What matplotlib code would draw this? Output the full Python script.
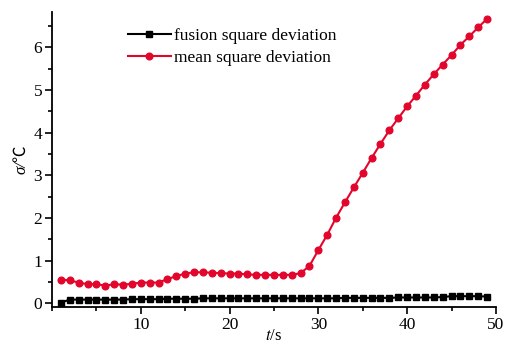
import numpy as np
import matplotlib
matplotlib.use('Agg')
import matplotlib.pyplot as plt
from matplotlib.ticker import MultipleLocator

t = np.arange(1, 50)
fusion = [0.02, 0.09, 0.09, 0.09, 0.09, 0.09, 0.09, 0.09, 0.10, 0.10,
          0.10, 0.10, 0.11, 0.11, 0.11, 0.11, 0.12, 0.12, 0.12, 0.12,
          0.12, 0.12, 0.12, 0.12, 0.12, 0.12, 0.12, 0.12, 0.12, 0.12,
          0.12, 0.12, 0.13, 0.13, 0.13, 0.13, 0.13, 0.13, 0.14, 0.14,
          0.14, 0.14, 0.14, 0.15, 0.17, 0.17, 0.17, 0.17, 0.16]
mean_sq = [0.56, 0.54, 0.49, 0.45, 0.45, 0.42, 0.45, 0.44, 0.46, 0.49,
           0.49, 0.49, 0.57, 0.64, 0.70, 0.73, 0.73, 0.72, 0.71, 0.70,
           0.70, 0.68, 0.67, 0.67, 0.67, 0.67, 0.67, 0.71, 0.88, 1.25,
           1.61, 2.01, 2.37, 2.72, 3.06, 3.41, 3.74, 4.06, 4.34, 4.62,
           4.87, 5.13, 5.37, 5.60, 5.82, 6.06, 6.26, 6.47, 6.67]

plt.rcParams['font.family'] = ['Liberation Serif', 'Noto Sans CJK SC', 'DejaVu Serif']
plt.rcParams['mathtext.fontset'] = 'stix'

fig = plt.figure(figsize=(5.05, 3.44), dpi=100)
ax = fig.add_axes([0.103, 0.108, 0.879, 0.857])

ax.plot(t, fusion, '-s', color='black', lw=1.5, ms=4, label='fusion square deviation')
ax.plot(t, mean_sq, '-o', color='#e2062c', lw=1.5, ms=4.8, label='mean square deviation')

ax.set_xlim(0, 50)
ax.set_ylim(-0.08, 6.83)
ax.xaxis.set_minor_locator(MultipleLocator(5))
ax.yaxis.set_major_locator(MultipleLocator(1))
ax.yaxis.set_minor_locator(MultipleLocator(0.5))
ax.set_xticks([10, 20, 30, 40, 50])

for s in ['top', 'right']:
    ax.spines[s].set_visible(False)
for s in ['left', 'bottom']:
    ax.spines[s].set_linewidth(1.3)
ax.tick_params(which='major', direction='out', length=5, width=1.2, labelsize=12.5, pad=2)
ax.tick_params(which='minor', direction='out', length=3, width=1.2)

ax.set_xlabel('$t$/s', fontsize=12, labelpad=-3)
# plain text so the ℃ sign can fall back to the CJK font
ax.set_ylabel('σ/℃', fontsize=12, fontstyle='italic', labelpad=3)

ax.legend(loc='upper left', bbox_to_anchor=(0.135, 1.0), frameon=False, fontsize=12.5,
          handlelength=2.5, handletextpad=0.15, labelspacing=0.35)

plt.savefig('out.png', dpi=100)
